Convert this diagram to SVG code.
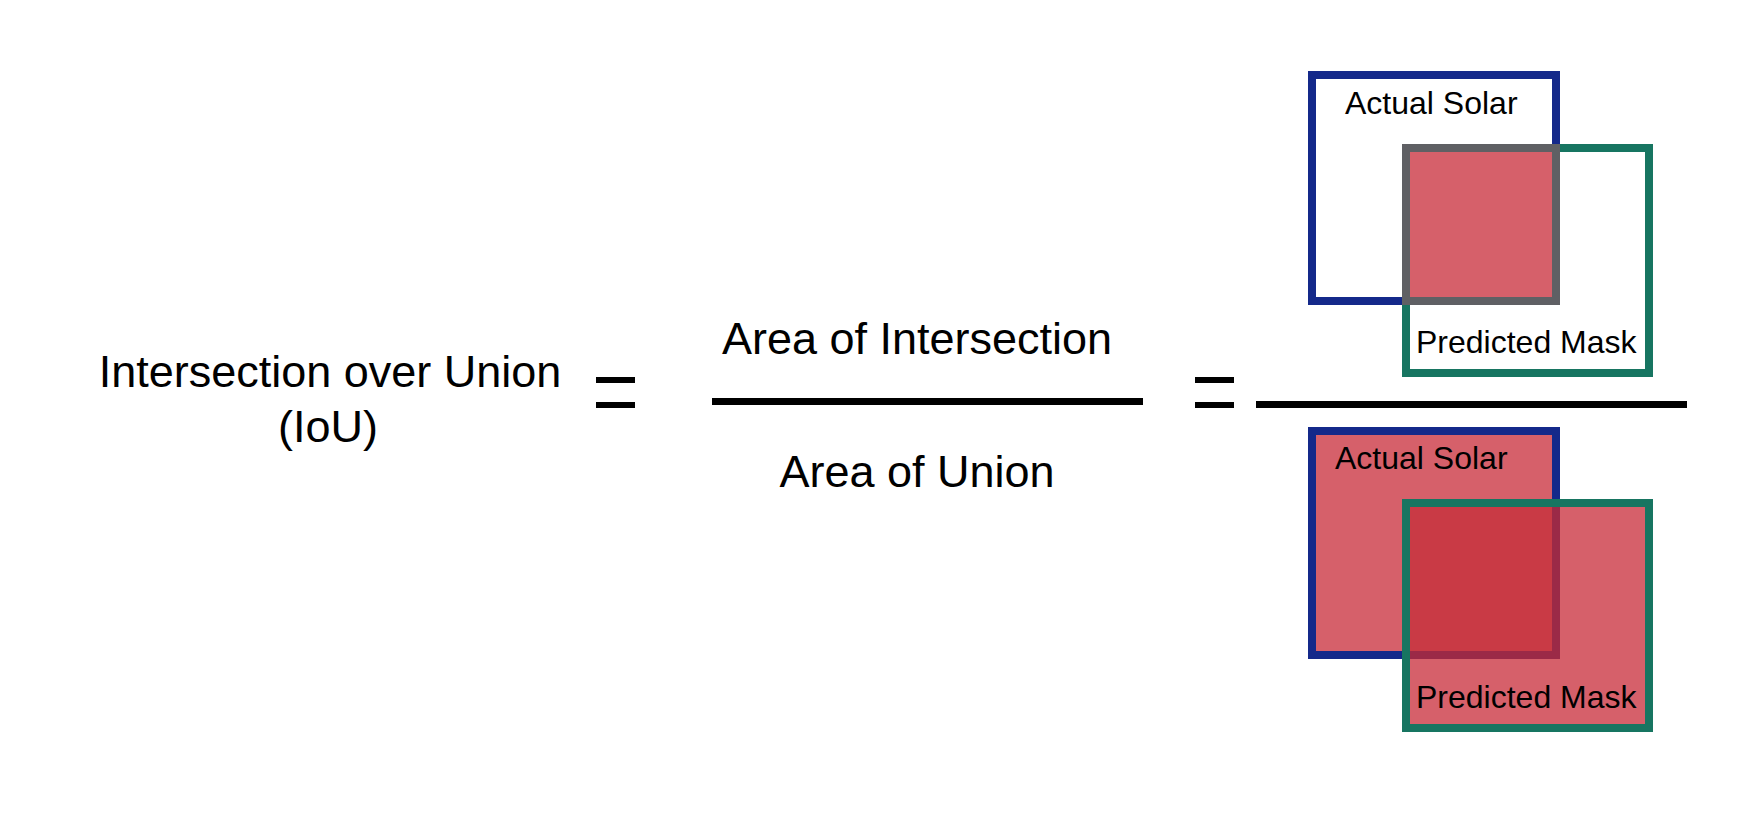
<svg xmlns="http://www.w3.org/2000/svg" width="1763" height="818" viewBox="0 0 1763 818">
<style>
text{font-family:"Liberation Sans",Arial,sans-serif;fill:#000}
.big{font-size:45px;text-anchor:middle}
.lbl{font-size:32px}
.bar{fill:#000}
.blue{stroke:#14298a;stroke-width:8}
.green{stroke:#177561;stroke-width:8}
</style>
<rect width="1763" height="818" fill="#fff"/>
<g id="iou-label"><text class="big" x="330" y="387">Intersection over Union</text><text class="big" x="328" y="442">(IoU)</text></g>
<g id="eq1"><rect class="bar" x="596" y="377" width="39" height="6"/><rect class="bar" x="596" y="402" width="39" height="6"/></g>
<g id="fraction"><text class="big" x="917" y="354">Area of Intersection</text><rect class="bar" x="712" y="398" width="431" height="7"/><text class="big" x="917" y="487">Area of Union</text></g>
<g id="eq2"><rect class="bar" x="1195" y="377" width="39" height="6"/><rect class="bar" x="1195" y="402" width="39" height="6"/></g>
<g id="pictorial">
<rect class="blue" x="1312" y="75" width="244" height="226" fill="none"/>
<rect class="green" x="1406" y="148" width="243" height="225" fill="none"/>
<rect x="1406" y="148" width="150" height="153" fill="#d6606a" stroke="#5f6064" stroke-width="8"/>
<text class="lbl" x="1345" y="114">Actual Solar</text>
<text class="lbl" x="1416" y="353">Predicted Mask</text>
<rect class="bar" x="1256" y="401" width="431" height="7"/>
<rect class="blue" x="1312" y="431" width="244" height="224" fill="#d6606a"/>
<rect class="green" x="1406" y="503" width="243" height="225" fill="#d6606a"/>
<rect x="1410" y="507" width="142" height="144" fill="#c93a45"/>
<path d="M1556 507V655H1410" fill="none" stroke="#9b2a47" stroke-width="8"/>
<text class="lbl" x="1335" y="469">Actual Solar</text>
<text class="lbl" x="1416" y="708">Predicted Mask</text>
</g>
</svg>
